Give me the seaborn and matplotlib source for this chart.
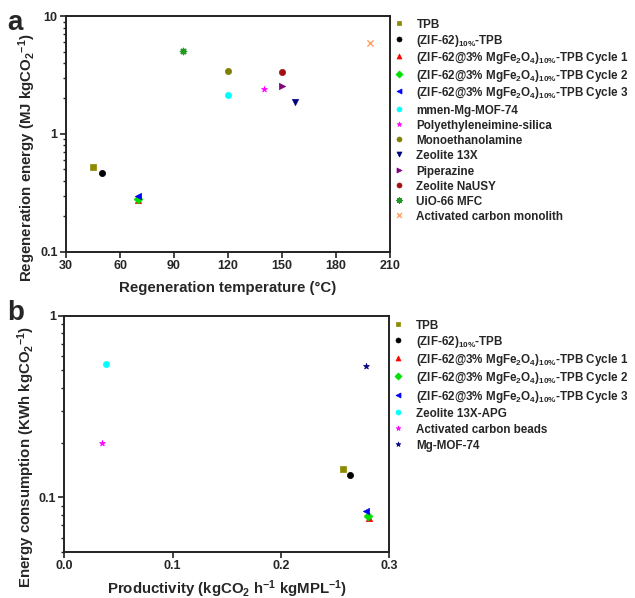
import matplotlib
matplotlib.use("Agg")
import matplotlib.pyplot as plt
import matplotlib.ticker as mticker
import seaborn as sns

sns.set_theme(style="ticks")
plt.rcParams["font.family"] = ["Liberation Sans", "DejaVu Sans"]
plt.rcParams["font.weight"] = "bold"
plt.rcParams["axes.labelweight"] = "bold"
plt.rcParams["mathtext.fontset"] = "custom"
plt.rcParams["mathtext.rm"] = "Liberation Sans:bold"
plt.rcParams["mathtext.bf"] = "Liberation Sans:bold"
plt.rcParams["mathtext.it"] = "Liberation Sans:bold"
plt.rcParams["mathtext.default"] = "bf"

CYC = r"(ZIF-62@3% MgFe$_2$O$_4$)$_{10\%}$-TPB Cycle "
ZIF = r"(ZIF-62)$_{10\%}$-TPB"

# ---- panel a: regeneration energy vs regeneration temperature ----
a_names = ["TPB", ZIF, CYC + "1", CYC + "2", CYC + "3",
           "mmen-Mg-MOF-74", "Polyethyleneimine-silica", "Monoethanolamine",
           "Zeolite 13X", "Piperazine", "Zeolite NaUSY", "UiO-66 MFC",
           "Activated carbon monolith"]
a_temp = [45, 50, 70, 70, 70, 120, 140, 120, 157, 150, 150, 95, 199]
a_energy = [0.52, 0.47, 0.275, 0.28, 0.30, 2.15, 2.42, 3.44, 1.87, 2.57, 3.33, 5.05, 5.9]
a_colors = ["#8b8b00", "#000000", "#ff0000", "#00e000", "#0000ff",
            "#00ffff", "#ff00ff", "#808000", "#000080", "#800080",
            "#a01010", "#229922", "#ffa060"]
a_markers = ["s", "o", "^", "D", "<", "o", "*", "o", "v", ">", "o",
             (8, 2, 0), "x"]

# ---- panel b: energy consumption vs productivity ----
b_names = ["TPB", ZIF, CYC + "1", CYC + "2", CYC + "3",
           "Zeolite 13X-APG", "Activated carbon beads", "Mg-MOF-74"]
b_prod = [0.257, 0.264, 0.2815, 0.280, 0.2785, 0.039, 0.035, 0.279]
b_energy = [0.143, 0.132, 0.0773, 0.0785, 0.084, 0.54, 0.20, 0.53]
b_colors = ["#8b8b00", "#000000", "#ff0000", "#00e000", "#0000ff",
            "#00ffff", "#ff00ff", "#000080"]
b_markers = ["s", "o", "^", "D", "<", "o", "*", "*"]

fig = plt.figure(figsize=(6.35, 5.98), dpi=100)
ax_a = fig.add_axes([0.104, 0.579, 0.510, 0.394])
ax_b = fig.add_axes([0.101, 0.077, 0.512, 0.395])


def draw(ax, xs, ys, names, colors, markers):
    for x, y, n, c, m in zip(xs, ys, names, colors, markers):
        filled = m not in ("x",) and not isinstance(m, tuple)
        sns.scatterplot(x=[x], y=[y], ax=ax, color=c, marker=m, s=20,
                        edgecolor=c if filled else None,
                        linewidth=0.5 if filled else 1.0, label=n, zorder=3)


def style(ax):
    ax.set_yscale("log")
    for sp in ax.spines.values():
        sp.set_visible(True)
        sp.set_linewidth(1.4)
        sp.set_color("#222222")
    ax.tick_params(axis="both", which="major", direction="out", length=4,
                   width=1.2, labelsize=9, color="#222222", pad=2)
    ax.tick_params(axis="y", which="minor", direction="out", length=2.5,
                   width=1.0, color="#222222")
    ax.tick_params(top=False, right=False, which="both")
    ax.yaxis.set_major_formatter(mticker.FuncFormatter(lambda v, p: f"{v:g}"))
    ax.yaxis.set_minor_formatter(mticker.NullFormatter())


draw(ax_a, a_temp, a_energy, a_names, a_colors, a_markers)
style(ax_a)
ax_a.set_xlim(30, 210)
ax_a.set_xticks([30, 60, 90, 120, 150, 180, 210])
ax_a.set_ylim(0.1, 10)
ax_a.set_xlabel("Regeneration temperature (°C)", fontsize=10.8)
ax_a.set_ylabel(r"Regeneration energy (MJ kgCO$_2$$^{-1}$)", fontsize=10.8)
ax_a.xaxis.set_label_coords(0.5, -0.125)
ax_a.yaxis.set_label_coords(-0.088, 0.40)

draw(ax_b, b_prod, b_energy, b_names, b_colors, b_markers)
style(ax_b)
ax_b.set_xlim(0, 0.3)
ax_b.set_xticks([0.0, 0.1, 0.2, 0.3])
ax_b.xaxis.set_major_formatter(mticker.FormatStrFormatter("%.1f"))
ax_b.set_ylim(0.05, 1)
ax_b.set_yticks([0.1, 1])
ax_b.set_xlabel(r"Productivity (kgCO$_2$ h$^{-1}$ kgMPL$^{-1}$)", fontsize=10.8)
ax_b.set_ylabel(r"Energy consumption (KWh kgCO$_2$$^{-1}$)", fontsize=10.8)
ax_b.xaxis.set_label_coords(0.5, -0.11)
ax_b.yaxis.set_label_coords(-0.082, 0.40)

for ax in (ax_a, ax_b):
    for lab in ax.get_xticklabels() + ax.get_yticklabels():
        lab.set_fontweight("bold")

# a tall handle box keeps every legend row the same height
leg_kw = dict(loc="upper left", frameon=False, handletextpad=1.0,
              handlelength=1.0, handleheight=1.4, borderpad=0, borderaxespad=0,
              markerscale=0.8, prop={"weight": "bold", "size": 8.4})
ax_a.legend(bbox_to_anchor=(1.01, 0.995), labelspacing=0.14, **leg_kw)
ax_b.legend(bbox_to_anchor=(1.01, 0.99), labelspacing=0.19, **leg_kw)

fig.text(0.012, 0.949, "a", fontsize=20, fontweight="bold")
fig.text(0.012, 0.465, "b", fontsize=20, fontweight="bold")

fig.savefig("out.png", dpi=100)
